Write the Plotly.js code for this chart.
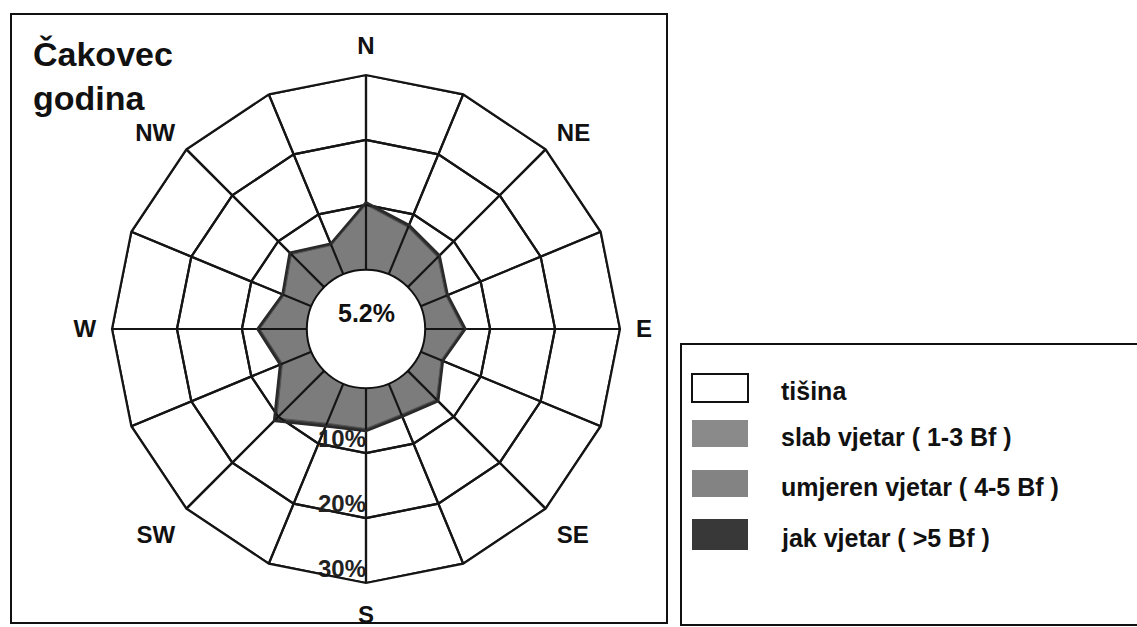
<!DOCTYPE html>
<html>
<head>
<meta charset="utf-8">
<script src="https://cdn.plot.ly/plotly-3.0.1.min.js"></script>
<style>
html,body{margin:0;padding:0;background:#fff;}
#chart{width:1137px;height:627px;}
</style>
</head>
<body>
<div id="chart"></div>
<script>
// ---- data ----
const directions = ['N','NNE','NE','ENE','E','ESE','SE','SSE','S','SSW','SW','WSW','W','WNW','NW','NNW'];
const dirLabels  = ['N','','NE','','E','','SE','','S','','SW','','W','','NW',''];
const slab    = [10.0, 7.8, 6.5, 4.2, 5.8, 3.4, 6.2, 5.1, 6.2, 6.6, 10.3, 4.8, 7.2, 4.5, 7.1, 4.8];
const umjeren = [0.4, 0.4, 0.4, 0.3, 0.4, 0.3, 0.4, 0.4, 0.4, 0.5, 0.6, 0.4, 0.4, 0.3, 0.4, 0.3];
const jak     = [0, 0, 0, 0, 0, 0, 0, 0, 0, 0, 0, 0, 0, 0, 0, 0];
const calm = 5.2;
const ringValues = [10, 20, 30];
const ringLabels = ['10%', '20%', '30%'];
const titleLines = ['Čakovec', 'godina'];
const legendLabels = ['tišina', 'slab vjetar ( 1-3 Bf )', 'umjeren vjetar ( 4-5 Bf )', 'jak vjetar ( >5 Bf )'];
const legendColors = ['#ffffff', '#8a8a8a', '#838383', '#383838'];

// ---- layout constants ----
const W = 1137, H = 627;
const domX = [112 / W, 620 / W];
const domY = [44 / H, 552 / H];
const hole = 0.233;
const FONT = 'Liberation Sans, Arial, sans-serif';
const GRID = '#151515';

function closed(a) { return a.concat([a[0]]); }
const cumUmj = slab.map((v, i) => v + umjeren[i]);
const cumJak = cumUmj.map((v, i) => v + jak[i]);
const thetaC = closed(directions);

// grid overlay (rings + spokes) built from ring values and directions
const gridR = [], gridT = [];
ringValues.forEach(rv => {
  directions.forEach(d => { gridR.push(rv); gridT.push(d); });
  gridR.push(rv); gridT.push(directions[0]);
  gridR.push(null); gridT.push(directions[0]);
});
directions.forEach(d => {
  gridR.push(0, ringValues[ringValues.length - 1], null);
  gridT.push(d, d, d);
});

const traces = [
  {
    type: 'scatterpolar', r: closed(cumJak), theta: thetaC, mode: 'lines',
    fill: 'toself', fillcolor: '#383838', line: {color: '#222', width: 1}, hoverinfo: 'skip', showlegend: false
  },
  {
    type: 'scatterpolar', r: closed(cumUmj), theta: thetaC, mode: 'lines',
    fill: 'toself', fillcolor: '#3c3c3c', line: {color: '#222', width: 1}, hoverinfo: 'skip', showlegend: false
  },
  {
    type: 'scatterpolar', r: closed(slab), theta: thetaC, mode: 'lines',
    fill: 'toself', fillcolor: '#7c7c7c', line: {color: '#555', width: 1}, hoverinfo: 'skip', showlegend: false
  },
  {
    type: 'scatterpolar', r: gridR, theta: gridT, mode: 'lines', connectgaps: false,
    line: {color: GRID, width: 2.2}, hoverinfo: 'skip', showlegend: false
  },
  {
    type: 'scatterpolar', r: closed(cumUmj), theta: thetaC, mode: 'lines',
    line: {color: '#2a2a2a', width: 2.5}, hoverinfo: 'skip', showlegend: false
  },
  {
    type: 'scatterpolar', r: ringValues, theta: ringValues.map(() => 'S'), mode: 'text',
    text: ringLabels, textposition: 'top left',
    textfont: {family: FONT, size: 24, color: '#222', weight: 700}, hoverinfo: 'skip', showlegend: false
  }
];

const shapes = [];
const annotations = [];

// frame boxes
shapes.push({type: 'rect', xref: 'paper', yref: 'paper', x0: 11 / W, x1: 667 / W, y0: 1 - 623 / H, y1: 1 - 14 / H,
  line: {color: '#111', width: 2}, fillcolor: 'rgba(0,0,0,0)', layer: 'below'});
shapes.push({type: 'rect', xref: 'paper', yref: 'paper', x0: 681 / W, x1: 1.01, y0: 1 - 625 / H, y1: 1 - 344 / H,
  line: {color: '#111', width: 2}, fillcolor: 'rgba(0,0,0,0)', layer: 'below'});

// calm circle (hole)
const cx = (domX[0] + domX[1]) / 2, cy = (domY[0] + domY[1]) / 2;
const Rpx = (domX[1] - domX[0]) * W / 2;
const holePx = Rpx * hole;
shapes.push({type: 'circle', xref: 'paper', yref: 'paper',
  x0: cx - holePx / W, x1: cx + holePx / W, y0: cy - holePx / H, y1: cy + holePx / H,
  fillcolor: '#ffffff', line: {color: '#111', width: 2}, layer: 'above'});
annotations.push({xref: 'paper', yref: 'paper', x: cx, y: cy, xanchor: 'center', yanchor: 'middle',
  yshift: 16, showarrow: false,
  text: calm.toFixed(1) + '%', font: {family: FONT, size: 25, color: '#111', weight: 700}});

// legend
const sw = {x0: 692, x1: 748};
const legTop = [374, 420, 470, 519];
const legH = [28, 27, 27, 31];
legendLabels.forEach((lab, i) => {
  const y0 = legTop[i], y1 = legTop[i] + legH[i];
  shapes.push({type: 'rect', xref: 'paper', yref: 'paper', x0: sw.x0 / W, x1: sw.x1 / W,
    y0: 1 - y1 / H, y1: 1 - y0 / H, fillcolor: legendColors[i],
    line: {color: i === 0 ? '#111' : legendColors[i], width: i === 0 ? 2 : 0}});
  annotations.push({xref: 'paper', yref: 'paper', x: 779 / W, y: 1 - (y0 + legH[i] / 2 + 3) / H,
    xanchor: 'left', yanchor: 'middle', showarrow: false, text: lab,
    font: {family: FONT, size: 25, color: '#111', weight: 700}});
});

const layout = {
  width: W, height: H,
  margin: {l: 0, r: 0, t: 0, b: 0},
  paper_bgcolor: '#ffffff',
  showlegend: false,
  title: {
    text: titleLines.join('<br>'), x: 33 / W, xanchor: 'left', xref: 'paper',
    y: 1 - 66 / H, yanchor: 'middle', yref: 'container',
    font: {family: FONT, size: 34, color: '#111', weight: 700}
  },
  polar: {
    domain: {x: domX, y: domY},
    bgcolor: '#ffffff',
    hole: hole,
    gridshape: 'linear',
    radialaxis: {
      range: [0, 30], tickmode: 'array', tickvals: ringValues, showticklabels: false,
      ticks: '', showline: false, gridcolor: GRID, gridwidth: 2.2, angle: 270
    },
    angularaxis: {
      type: 'category', categoryorder: 'array', categoryarray: directions,
      rotation: 90, direction: 'clockwise',
      tickmode: 'array', tickvals: directions, ticktext: dirLabels,
      ticks: 'outside', ticklen: 10, tickcolor: 'rgba(0,0,0,0)',
      showline: true, linecolor: GRID, linewidth: 2.2,
      gridcolor: GRID, gridwidth: 2.2,
      tickfont: {family: FONT, size: 24, color: '#111', weight: 700}
    }
  },
  shapes: shapes,
  annotations: annotations
};

Plotly.newPlot('chart', traces, layout, {displayModeBar: false, staticPlot: true});
</script>
</body>
</html>
